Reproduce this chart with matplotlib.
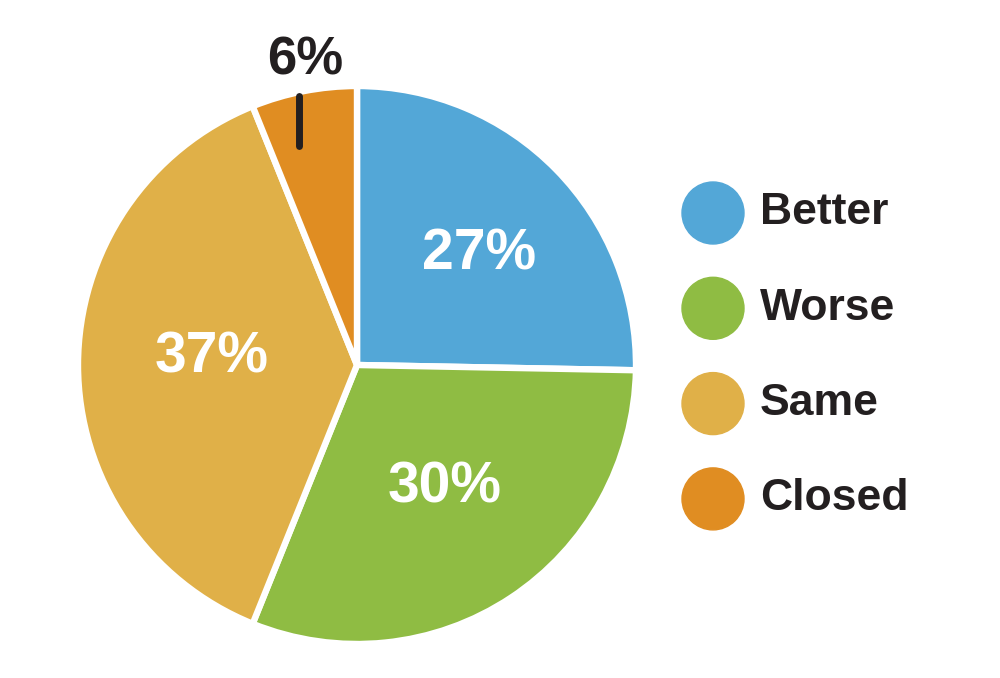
import numpy as np
import matplotlib
matplotlib.use("Agg")
import matplotlib.pyplot as plt
from matplotlib.patches import Circle

labels = ["Better", "Worse", "Same", "Closed"]
pct_labels = ["27%", "30%", "37%", "6%"]
# slice shares as drawn in the reference (angles)
shares = [25.3, 30.8, 37.8, 6.1]
colors = ["#53A7D7", "#8FBC43", "#E0B048", "#E08D22"]
dark = "#231F20"

plt.rcParams['font.family'] = ['Liberation Sans', 'DejaVu Sans']

fig = plt.figure(figsize=(10, 6.78), dpi=100)
ax = fig.add_axes([0, 0, 1, 1])

cx, cy, r = 357, 313, 279
wedges, _ = ax.pie(
    shares, colors=colors, startangle=90, counterclock=False,
    center=(cx, cy), radius=r,
    wedgeprops=dict(edgecolor='white', linewidth=4.6, joinstyle='round'))
ax.set_xlim(0, 1000)
ax.set_ylim(0, 678)
ax.set_aspect('equal')
ax.axis('off')

# label placement (radius fraction, angle shift in degrees) for the big slices
place = [(0.59, -2.5), (0.54, 2.3), (0.52, -2.8)]
for w, txt, (f, shift) in zip(wedges[:3], pct_labels[:3], place):
    a = np.deg2rad((w.theta1 + w.theta2) / 2 + shift)
    ax.text(cx + f * r * np.cos(a), cy + f * r * np.sin(a), txt,
            color='white', fontsize=41, fontweight='bold',
            ha='center', va='center')

# small slice: label outside with a vertical tick mark
w = wedges[3]
a = np.deg2rad((w.theta1 + w.theta2) / 2 + 1.2)
tx = cx + 0.99 * r * np.cos(a)
ty = cy + np.sqrt(r ** 2 - (tx - cx) ** 2) - 4
ax.plot([tx, tx], [ty, ty - 50], color=dark, lw=5, solid_capstyle='round')
ax.text(tx + 6, ty + 36, pct_labels[3], color=dark, fontsize=38,
        fontweight='bold', ha='center', va='center')

# legend
for i, (lab, col) in enumerate(zip(labels, colors)):
    y = 465 - i * 95.3
    ax.add_patch(Circle((713, y), 31, color=col))
    ax.text(760, y, lab, fontsize=32, fontweight='bold', color=dark,
            va='center', ha='left')

fig.savefig("out.png", dpi=100)
